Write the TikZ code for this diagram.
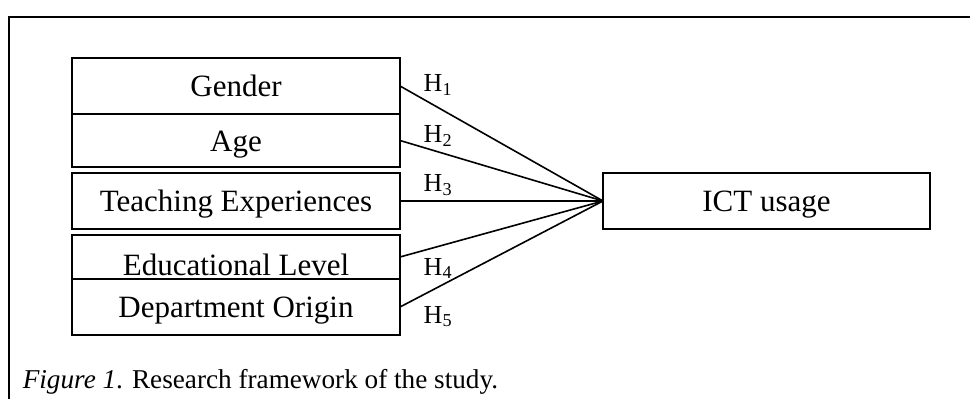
\documentclass[tikz,border=0pt]{standalone}
\usepackage{fontspec}
\setmainfont{Liberation Serif}
\usetikzlibrary{positioning}

\begin{document}
\begin{tikzpicture}[x=0.5pt,y=-0.5pt,node distance=0pt,line width=0.8pt]
  \tikzstyle{box}=[draw,outer sep=0pt,inner sep=0pt,minimum width=164pt,minimum height=28pt,text height=11pt,text depth=0pt,font=\fontsize{15.5}{18}\selectfont]
  \tikzstyle{hyp}=[anchor=base west,inner sep=0pt,pos=.113,font=\fontsize{13}{15}\selectfont]

  \useasboundingbox (0,0) rectangle (970,399);
  \draw[line width=1.2pt] (9,399) |- (970,17);

  \node[box](gender) at (236,86) {Gender};
  \node[box,minimum height=26.5pt](age)[below=of gender]{Age};
  \node[box](teach)[below=3pt of age]{Teaching Experiences};
  \node[box,minimum height=22pt,text height=20pt,text depth=1.5pt](edu)[below=3pt of teach]{Educational Level};
  \node[box](dept)[below=of edu]{Department Origin};
  \node[box,minimum width=163.5pt](ict)[right=101.5pt of teach]{ICT usage};

  \path
  (gender.east) edge node[hyp,yshift=3.5pt](h_1){H\textsubscript{1}} (ict.west)
  (age.east)    edge node[hyp,yshift=2.2pt](h_2){H\textsubscript{2}} (ict.west)
  (teach.east)  edge node[hyp,yshift=4.5pt](h_3){H\textsubscript{3}} (ict.west)
  (edu.east)    edge node[hyp,yshift=-12.2pt](h_4){H\textsubscript{4}} (ict.west)
  (dept.east)   edge node[hyp,yshift=-14pt](h_5){H\textsubscript{5}} (ict.west);

  \node[anchor=base west,inner sep=0pt,font=\fontsize{13.6}{16}\selectfont](caption) at (22,389)
    {\textit{Figure 1}. Research framework of the study.};
\end{tikzpicture}
\end{document}
